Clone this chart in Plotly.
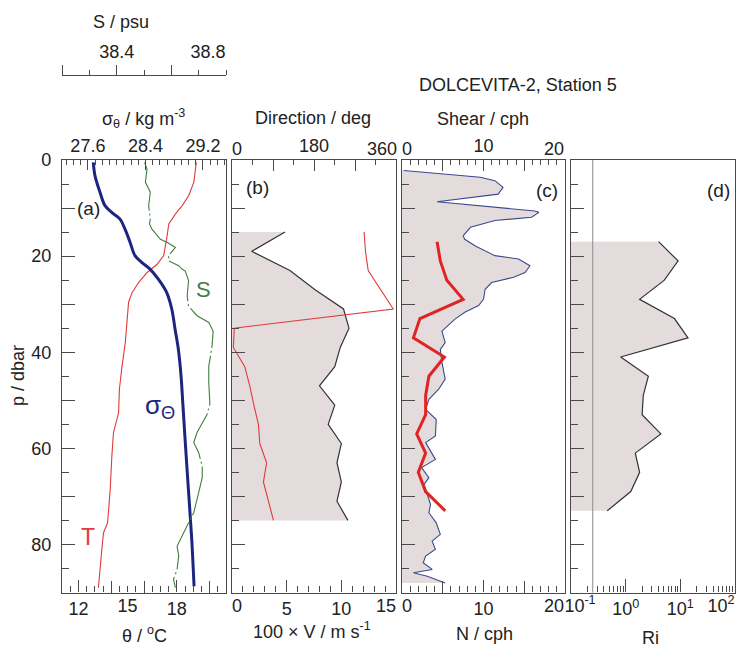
import plotly.graph_objects as go

# ---------------- data ----------------
# Panel (a): potential temperature, salinity, potential density
T_P = [0.5, 4.6, 7.4, 9.5, 11.2, 13.3, 15.8, 17.9, 19.9, 21.7, 23.4, 25.5, 27.6, 29.6,
       33.8, 38.0, 42.9, 47.7, 52.6, 56.7, 61.6, 68.5, 75.5, 77.6, 81.0, 86.6, 89.0]
THETA = [19.19, 19.04, 18.73, 18.33, 17.92, 17.51, 17.41, 17.31, 17.2, 16.8, 16.19, 15.67,
         15.27, 15.06, 14.96, 14.86, 14.66, 14.5, 14.45, 14.14, 14.04, 13.94, 13.78, 13.53,
         13.43, 13.29, 13.22]

S_P = [0.5, 1.9, 4.6, 6.7, 9.5, 12.3, 13.3, 14.4, 16.5, 17.1, 18.2, 19.9, 21.0, 22.0, 22.7,
       23.1, 25.1, 28.3, 30.4, 32.4, 33.8, 35.6, 38.7, 40.8, 42.9, 46.3, 50.8, 52.9, 54.7,
       56.7, 58.8, 60.9, 63.7, 66.1, 69.2, 73.4, 75.5, 77.6, 79.0, 80.4, 82.4, 85.2, 87.3, 89.0]
SAL = [38.502, 38.511, 38.505, 38.523, 38.517, 38.523, 38.520, 38.529, 38.560, 38.584,
       38.615, 38.590, 38.590, 38.627, 38.639, 38.651, 38.663, 38.658, 38.663, 38.694,
       38.737, 38.753, 38.749, 38.743, 38.737, 38.737, 38.741, 38.731, 38.713, 38.694,
       38.682, 38.700, 38.713, 38.713, 38.700, 38.682, 38.663, 38.645, 38.633, 38.621,
       38.627, 38.621, 38.608, 38.615]

SIG_P = [0.5, 3.3, 6.7, 9.5, 10.9, 12.3, 14.4, 17.1, 19.9, 21.3, 22.7, 24.8, 27.6, 31.0,
         35.2, 39.4, 44.9, 50.5, 58.1, 68.5, 79.0, 88.7]
SIGMA = [27.675, 27.699, 27.768, 27.838, 27.931, 28.047, 28.116, 28.186, 28.255, 28.348,
         28.464, 28.579, 28.696, 28.766, 28.812, 28.858, 28.895, 28.919, 28.951, 28.997,
         29.044, 29.076]

# Panel (b): current speed (100 x V) and direction
V_P = [15, 19, 23, 27, 31, 35, 39, 43, 47, 51, 55, 59, 63, 67, 71, 75]
SPEED = [4.85, 1.8, 5.3, 7.6, 10.2, 10.7, 9.9, 9.4, 8.0, 9.4, 8.8, 10.0, 9.6, 10.0, 9.6, 10.6]
DIRECTION = [290, 293, 299, 326, 354, 5, 3, 28, 39, 48, 58, 61, 76, 69, 80, 91]

# Panel (c): shear and buoyancy frequency
SHEAR_P = [2.2, 3.6, 4.3, 5.7, 7.1, 8.7, 10.6, 10.9, 11.9, 12.6, 14.0, 15.8, 16.5, 17.9,
           19.9, 20.6, 22.0, 23.4, 24.4, 25.5, 26.9, 29.0, 30.3, 31.7, 33.1, 35.6, 38.0,
           39.4, 42.1, 45.6, 47.7, 49.8, 51.9, 54.0, 57.4, 58.8, 62.3, 64.0, 66.1, 67.5,
           70.6, 71.7, 73.4, 75.5, 77.9, 79.3, 81.0, 82.4, 83.8, 85.2, 85.9, 86.6, 88.0]
SHEAR = [0.2, 9.6, 11.4, 12.4, 11.8, 4.3, 16.3, 16.8, 15.9, 11.4, 8.4, 7.5, 7.7, 9.0,
         11.4, 14.3, 15.7, 15.1, 13.7, 11.0, 10.2, 10.0, 9.4, 7.7, 6.5, 4.9, 5.3,
         4.7, 4.9, 5.3, 4.5, 3.3, 2.9, 4.2, 4.1, 2.9, 4.1, 2.4, 3.3, 2.7,
         3.3, 3.5, 3.3, 4.2, 4.7, 3.7, 4.1, 2.9, 2.6, 3.7, 1.4, 3.1, 5.3]

N_P = [17, 21, 25, 29, 33, 37, 41, 45, 49, 53, 57, 61, 65, 69, 73]
N_FREQ = [4.3, 4.7, 5.5, 7.5, 2.2, 1.4, 5.2, 3.3, 2.9, 2.9, 1.8, 2.9, 2.0, 2.9, 5.3]

# Panel (d): Richardson number
RI_P = [17, 21, 25, 29, 33, 37, 41, 45, 49, 53, 57, 61, 65, 69, 73]
RI = [4.0, 9.1, 5.1, 1.8, 7.8, 13.8, 0.81, 2.6, 2.1, 2.0, 4.4, 1.5, 1.8, 1.24, 0.46]
RI_CRIT = 0.25

# ---------------- layout helpers ----------------
W, H = 737, 651
def fx(px): return px / W
def fy(py): return 1 - py / H

FONT = "Liberation Sans, Arial, Helvetica, sans-serif"
TXT = "#222222"
AXC = "#4a4a4a"
FILL = "#e4dcdc"
CLEAR = "rgba(0,0,0,0)"

DA = [fx(62), fx(226)]
DB = [fx(232), fx(396)]
DC = [fx(402), fx(565)]
DD = [fx(571), fx(735)]
DY = [fy(592.5), fy(160)]

P_RANGE = [90, 0]
TH_RANGE = [11, 21]
SIG_RANGE = [27.24, 29.52]
SAL_RANGE = [38.2, 38.8]
V_RANGE = [0, 15]
DIR_RANGE = [0, 360]
SH_RANGE = [0, 20]
RI_RANGE = [-1, 2]

fig = go.Figure()

# panel a
fig.add_trace(go.Scatter(x=THETA, y=T_P, xaxis="x", yaxis="y", mode="lines",
                         line=dict(color="#e03a3a", width=1.1), showlegend=False))
fig.add_trace(go.Scatter(x=SIGMA, y=SIG_P, xaxis="x2", yaxis="y", mode="lines",
                         line=dict(color="#1c2580", width=3, shape="spline"), showlegend=False))
fig.add_trace(go.Scatter(x=SAL, y=S_P, xaxis="x3", yaxis="y", mode="lines",
                         line=dict(color="#3f7f3f", width=1.1, dash="50px,3px,2px,3px"),
                         showlegend=False))
# panel b
fig.add_trace(go.Scatter(x=SPEED, y=V_P, xaxis="x4", yaxis="y2", mode="lines",
                         fill="tozerox", fillcolor=FILL,
                         line=dict(color="#333333", width=1.2), showlegend=False))
fig.add_trace(go.Scatter(x=DIRECTION, y=V_P, xaxis="x5", yaxis="y2", mode="lines",
                         line=dict(color="#e03a3a", width=1.1), showlegend=False))
# panel c (shear on base axis, N on overlay so it is drawn on top)
fig.add_trace(go.Scatter(x=SHEAR, y=SHEAR_P, xaxis="x6", yaxis="y3", mode="lines",
                         fill="tozerox", fillcolor=FILL,
                         line=dict(color="#3b4a8c", width=1.1), showlegend=False))
fig.add_trace(go.Scatter(x=N_FREQ, y=N_P, xaxis="x7", yaxis="y3", mode="lines",
                         line=dict(color="#e02424", width=3), showlegend=False))
# panel d
ri_left = 10 ** RI_RANGE[0] * 0.5
fig.add_trace(go.Scatter(x=[ri_left] + RI + [ri_left], y=[RI_P[0]] + RI_P + [RI_P[-1]],
                         xaxis="x8", yaxis="y4", mode="lines", fill="toself",
                         fillcolor=FILL, line=dict(width=0), showlegend=False,
                         hoverinfo="skip"))
fig.add_trace(go.Scatter(x=RI, y=RI_P, xaxis="x8", yaxis="y4", mode="lines",
                         line=dict(color="#333333", width=1.2), showlegend=False))

tickfont = dict(family=FONT, size=18, color=TXT)

layout = dict(
    width=W, height=H, margin=dict(l=0, r=0, t=0, b=0),
    paper_bgcolor="white", plot_bgcolor="white",
    font=dict(family=FONT, size=18, color=TXT),
    showlegend=False,
)

def minor(dtick, tick0, ln=6, ticks="inside"):
    return dict(ticks=ticks, dtick=dtick, tick0=tick0, ticklen=ln,
                tickcolor=AXC, tickwidth=1.1, showgrid=False)

def xax(domain, rng, anchor, side, tickvals, ticktext, ticklen, mnr, **kw):
    d = dict(domain=domain, range=rng, anchor=anchor, side=side,
             tickmode="array", tickvals=tickvals, ticktext=ticktext,
             ticks="inside", ticklen=ticklen, tickwidth=1.2, tickcolor=AXC,
             showline=True, linecolor=AXC, linewidth=1.3,
             showgrid=False, zeroline=False, tickfont=tickfont,
             minor=mnr, automargin=False)
    d.update(kw)
    return d

counter = {"x": 8, "y": 5}

def overlay(kind, base, pair, domain, rng, anchor, side, tickvals, ticktext=None,
            ticks="inside", ticklen=12, tickcolor=AXC, shift=0, **kw):
    """Extra overlay axis: either additional long ticks without labels, or
    edge labels shifted inwards (transparent ticks). An empty trace attaches it."""
    counter[kind] += 1
    n = counter[kind]
    name = f"{kind}axis{n}"
    d = dict(overlaying=base, domain=domain, range=rng, anchor=anchor, side=side,
             tickmode="array", tickvals=tickvals, ticks=ticks, ticklen=ticklen,
             tickwidth=1.2, tickcolor=tickcolor, showline=False, showgrid=False,
             zeroline=False, tickfont=tickfont, automargin=False)
    if ticktext is None:
        d["showticklabels"] = False
    else:
        d["ticktext"] = ticktext
        d["ticklabelshift"] = shift
    d.update(kw)
    layout[name] = d
    ref = f"{kind}{n}"
    if kind == "x":
        fig.add_trace(go.Scatter(x=[], y=[], xaxis=ref, yaxis=pair, mode="lines",
                                 showlegend=False, hoverinfo="skip"))
    else:
        fig.add_trace(go.Scatter(x=[], y=[], xaxis=pair, yaxis=ref, mode="lines",
                                 showlegend=False, hoverinfo="skip"))

# ---- panel a axes ----
layout["xaxis"] = xax(DA, TH_RANGE, "y", "bottom", [12, 18], ["12", "18"], 12, minor(0.5, 11))
overlay("x", "x", "y", DA, TH_RANGE, "y", "bottom", [14, 16, 20], ticklen=12)
overlay("x", "x", "y", DA, TH_RANGE, "y", "bottom", [15], ["15"], ticklen=12, tickcolor=CLEAR)

layout["xaxis2"] = xax(DA, SIG_RANGE, "y", "top", [27.6, 28.4, 29.2],
                       ["27.6", "28.4", "29.2"], 10, minor(0.1, 27.2, 5), overlaying="x")

S_POS = fy(75)
layout["xaxis3"] = xax(DA, SAL_RANGE, "free", "top", [38.4], ["38.4"], 10,
                       minor(0.1, 38.2, 5, "outside"), overlaying="x", position=S_POS,
                       ticks="outside")
overlay("x", "x", "y", DA, SAL_RANGE, "free", "top", [38.2, 38.6], ticks="outside",
        ticklen=10, position=S_POS)
overlay("x", "x", "y", DA, SAL_RANGE, "free", "top", [38.8], ["38.8"], ticks="outside",
        ticklen=10, tickcolor=CLEAR, position=S_POS, shift=-18)

# ---- panel b axes ----
layout["xaxis4"] = xax(DB, V_RANGE, "y2", "bottom", [5, 10], ["5", "10"], 12, minor(1, 0))
overlay("x", "x4", "y2", DB, V_RANGE, "y2", "bottom", [0], ["0"], ticklen=12,
        tickcolor=CLEAR, shift=5)
overlay("x", "x4", "y2", DB, V_RANGE, "y2", "bottom", [15], ["15"], ticklen=12,
        tickcolor=CLEAR, shift=-10)

layout["xaxis5"] = xax(DB, DIR_RANGE, "y2", "top", [180], ["180"], 11, minor(45, 0, 5),
                       overlaying="x4")
overlay("x", "x4", "y2", DB, DIR_RANGE, "y2", "top", [90, 270], ticklen=11)
overlay("x", "x4", "y2", DB, DIR_RANGE, "y2", "top", [0], ["0"], ticklen=11,
        tickcolor=CLEAR, shift=5)
overlay("x", "x4", "y2", DB, DIR_RANGE, "y2", "top", [360], ["360"], ticklen=11,
        tickcolor=CLEAR, shift=-14)

# ---- panel c axes ----
layout["xaxis6"] = xax(DC, SH_RANGE, "y3", "top", [10], ["10"], 11, minor(1, 0, 5))
overlay("x", "x6", "y3", DC, SH_RANGE, "y3", "top", [5, 15], ticklen=11)
overlay("x", "x6", "y3", DC, SH_RANGE, "y3", "top", [0], ["0"], ticklen=11,
        tickcolor=CLEAR, shift=5)
overlay("x", "x6", "y3", DC, SH_RANGE, "y3", "top", [20], ["20"], ticklen=11,
        tickcolor=CLEAR, shift=-11)

layout["xaxis7"] = xax(DC, SH_RANGE, "y3", "bottom", [10], ["10"], 12, minor(1, 0),
                       overlaying="x6")
overlay("x", "x6", "y3", DC, SH_RANGE, "y3", "bottom", [5, 15], ticklen=12)
overlay("x", "x6", "y3", DC, SH_RANGE, "y3", "bottom", [0], ["0"], ticklen=12,
        tickcolor=CLEAR, shift=5)
overlay("x", "x6", "y3", DC, SH_RANGE, "y3", "bottom", [20], ["20"], ticklen=12,
        tickcolor=CLEAR, shift=-11)

# ---- panel d axes ----
ri_minor = [m * 10 ** e for e in (-1, 0, 1) for m in range(2, 10)]
layout["xaxis8"] = xax(DD, RI_RANGE, "y4", "bottom", [1, 10],
                       ["10<sup>0</sup>", "10<sup>1</sup>"], 13,
                       dict(ticks="inside", tickmode="array", tickvals=ri_minor, ticklen=6,
                            tickcolor=AXC, tickwidth=1.1, showgrid=False),
                       type="log", mirror=True)
overlay("x", "x8", "y4", DD, RI_RANGE, "y4", "bottom", [0.1], ["10<sup>-1</sup>"],
        ticklen=13, tickcolor=CLEAR, shift=9, type="log")
overlay("x", "x8", "y4", DD, RI_RANGE, "y4", "bottom", [100], ["10<sup>2</sup>"],
        ticklen=13, tickcolor=CLEAR, shift=-14, type="log")

# ---- y axes ----
def yax(anchor, labels):
    d = dict(domain=DY, range=P_RANGE, anchor=anchor, tickmode="array",
             ticks="inside", ticklen=13, tickwidth=1.2,
             tickcolor=AXC, showline=True, mirror=True, linecolor=AXC, linewidth=1.3,
             showgrid=False, zeroline=False, tickfont=tickfont, ticklabelstandoff=6,
             minor=dict(ticks="inside", dtick=5, tick0=0, ticklen=7, tickcolor=AXC,
                        tickwidth=1.1, showgrid=False),
             automargin=False)
    if labels:
        d.update(tickvals=[0, 20, 40, 60, 80], ticktext=["0", "20", "40", "60", "80"])
    else:
        d.update(tickvals=list(range(0, 91, 10)), showticklabels=False)
    return d

layout["yaxis"] = yax("x", True)
layout["yaxis2"] = yax("x4", False)
layout["yaxis3"] = yax("x6", False)
layout["yaxis4"] = yax("x8", False)
overlay("y", "y", "x", DY, P_RANGE, "x", "left", [10, 30, 50, 70, 90], ticklen=13)

layout["shapes"] = [dict(type="line", xref="x8", yref="y4 domain", x0=RI_CRIT, x1=RI_CRIT,
                         y0=0, y1=1, line=dict(color="#8a8a8a", width=1), layer="above")]

def ann(text, x, y, size=18, color=TXT, angle=0):
    return dict(text=text, x=fx(x), y=fy(y), xref="paper", yref="paper",
                showarrow=False, xanchor="center", yanchor="middle",
                font=dict(family=FONT, size=size, color=color), textangle=angle)

layout["annotations"] = [
    ann("S / psu", 121, 22),
    ann("σ<sub>θ</sub> / kg m<sup>-3</sup>", 143, 118),
    ann("Direction / deg", 313, 118),
    ann("Shear / cph", 483, 119),
    ann("DOLCEVITA-2, Station 5", 518, 85),
    ann("θ / <sup>o</sup>C", 144, 634),
    ann("100 × V / m s<sup>-1</sup>", 312, 630),
    ann("N / cph", 484, 634),
    ann("Ri", 650, 638),
    ann("p / dbar", 18, 376, angle=-90),
    ann("(a)", 88, 208, size=19),
    ann("(b)", 257, 188, size=19),
    ann("(c)", 547, 190, size=19),
    ann("(d)", 718, 190, size=19),
    ann("S", 203, 290, size=22, color="#3f7f3f"),
    ann("σ<sub>Θ</sub>", 160, 406, size=26, color="#1c2580"),
    ann("T", 88, 537, size=23, color="#e03a3a"),
]

fig.update_layout(**layout)
fig.write_html("out.html", config={"displayModeBar": False},
               post_script="document.body.style.margin='0';document.body.style.overflow='hidden';")
